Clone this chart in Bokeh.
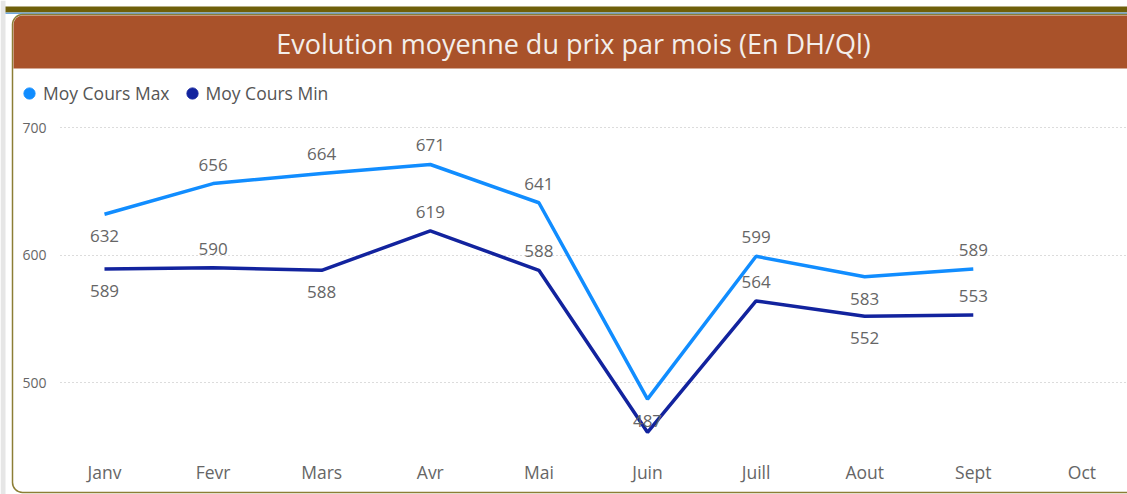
from bokeh.plotting import figure
from bokeh.models import (Range1d, FixedTicker, ColumnDataSource, BoxAnnotation, Label,
                          Legend, LegendItem)
from bokeh.core.properties import value
from bokeh.embed import file_html
from bokeh.resources import INLINE

# ---- data ----
months = ["Janv", "Fevr", "Mars", "Avr", "Mai", "Juin", "Juill", "Aout", "Sept", "Oct"]
cours_max = [632, 656, 664, 671, 641, 487, 599, 583, 589]
cours_min = [589, 590, 588, 619, 588, 461, 564, 552, 553]
pos_max = ["below", "above", "above", "above", "above", "below", "above", "below", "above"]
pos_min = ["below", "above", "below", "above", "above", None, "above", "below", "above"]
y_ticks = [500, 600, 700]
title_text = "Evolution moyenne du prix par mois (En DH/Ql)"

FONT = "Open Sans"
C_MAX = "#118DFF"
C_MIN = "#12239E"
LABEL_COLOR = "#666666"
OFFS = {"above": -19, "below": 22}

W, H = 1127, 494
p = figure(width=W, height=H, output_backend="svg", toolbar_location=None,
           x_range=Range1d(-0.9576, 9.420), y_range=Range1d(412.2, 799.6),
           min_border=0, min_border_left=0, min_border_right=0,
           min_border_top=0, min_border_bottom=0,
           background_fill_color="white", border_fill_color="white",
           outline_line_color=None)


def box(l, r, t, b, **kw):
    # pixel coords from top-left -> screen units (frame bottom-left origin)
    return BoxAnnotation(left=l, right=r, top=H - t, bottom=H - b,
                         left_units="screen", right_units="screen",
                         top_units="screen", bottom_units="screen", **kw)


# decorations
p.add_layout(box(0, 5, 0, H, fill_color="#E6E6E6", fill_alpha=1, line_color=None, level="underlay"))
p.add_layout(box(5, W, 6, 12, fill_color="#6E5F0A", fill_alpha=1, line_color=None, level="underlay"))
p.add_layout(box(5, W, 12, 13.5, fill_color="#6FA8DC", fill_alpha=1, line_color=None, level="underlay"))
p.add_layout(box(12, W + 20, 14, 492, fill_color=None, fill_alpha=0, line_color="#8C7E35",
                 line_width=1.5, line_alpha=1, border_radius=10, level="underlay"))
p.add_layout(box(13, W + 20, 15, 68, fill_color="#A9522A", fill_alpha=1, line_color=None,
                 border_radius=dict(top_left=9, top_right=0, bottom_right=0, bottom_left=0),
                 level="underlay"))
p.add_layout(Label(x=573, y=H - 43, x_units="screen", y_units="screen", text=title_text,
                   text_align="center", text_baseline="middle", text_font=FONT,
                   text_font_size="27px", text_color="#F3EEEA"))

# axes (drawn inside the frame at fixed locations)
p.xaxis.fixed_location = 446.7
p.yaxis.fixed_location = -0.405
p.xaxis.ticker = FixedTicker(ticks=list(range(len(months))))
p.xaxis.major_label_overrides = {i: m for i, m in enumerate(months)}
p.yaxis.ticker = FixedTicker(ticks=y_ticks)
for ax in (p.xaxis, p.yaxis):
    ax.axis_line_color = None
    ax.major_tick_line_color = None
    ax.minor_tick_line_color = None
    ax.major_tick_out = 0
    ax.major_tick_in = 0
    ax.major_label_text_font = FONT
    ax.major_label_text_color = LABEL_COLOR
p.xaxis.major_label_text_font_size = "17.5px"
p.xaxis.major_label_standoff = 9
p.yaxis.major_label_text_font_size = "14px"
p.yaxis.major_label_standoff = 14
p.xgrid.grid_line_color = None
p.ygrid.grid_line_color = "#B8B8B8"
p.ygrid.grid_line_dash = "1 3"
p.ygrid.grid_line_width = 1
p.ygrid.cross_bounds = (-0.405, 9.420)

xs = list(range(len(cours_max)))
p.line(xs, cours_max, line_color=C_MAX, line_width=3.5)
p.line(xs, cours_min, line_color=C_MIN, line_width=3.5)

# data labels
lx, ly, lt, lo = [], [], [], []
for vals, poss in ((cours_max, pos_max), (cours_min, pos_min)):
    for i, (v, ps) in enumerate(zip(vals, poss)):
        if ps is None:
            continue
        lx.append(i); ly.append(v); lt.append(str(v)); lo.append(OFFS[ps])
src = ColumnDataSource(dict(x=lx, y=ly, t=lt, o=lo))
p.text(x="x", y="y", text="t", y_offset="o", source=src, text_align="center",
       text_baseline="middle", text_font=value(FONT), text_font_size="17px",
       text_color=LABEL_COLOR)

# legend (hidden marker renderers supply the legend glyphs)
r1 = p.scatter(xs, cours_max, marker="circle", size=12, color=C_MAX, visible=False)
r2 = p.scatter(xs, cours_min, marker="circle", size=12, color=C_MIN, visible=False)
leg = Legend(items=[LegendItem(label="Moy Cours Max", renderers=[r1]),
                    LegendItem(label="Moy Cours Min", renderers=[r2])],
             orientation="horizontal", location=(15, H - 93 - 14), glyph_width=28, glyph_height=28,
             label_standoff=-3, spacing=8, padding=0, margin=0,
             border_line_color=None, background_fill_alpha=0,
             inactive_fill_alpha=0, click_policy="none",
             label_text_font=FONT, label_text_font_size="17.5px", label_text_color="#555555")
p.add_layout(leg)

open("out.html", "w").write(file_html(p, INLINE))
